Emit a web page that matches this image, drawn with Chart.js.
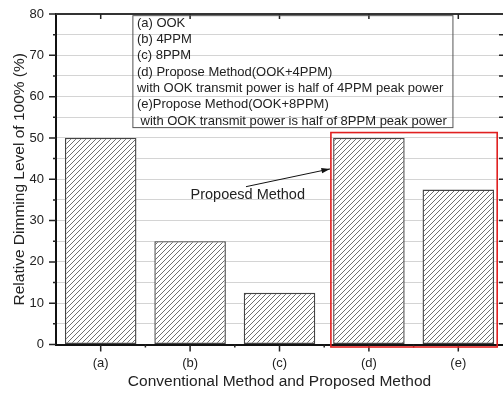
<!DOCTYPE html>
<html>
<head>
<title>Relative Dimming Level</title>
<script src="https://cdn.jsdelivr.net/npm/chart.js"></script>
<style>
  body { margin: 0; background: #fff; }
</style>
</head>
<body>
<canvas id="myChart" width="503" height="397"></canvas>
<script>
const categories = ['(a)', '(b)', '(c)', '(d)', '(e)'];
const dimming = [50, 25, 12.5, 50, 37.5];
const legendLines = [
  '(a) OOK',
  '(b) 4PPM',
  '(c) 8PPM',
  '(d) Propose Method(OOK+4PPM)',
  'with OOK transmit power is half of 4PPM peak power',
  '(e)Propose Method(OOK+8PPM)',
  ' with OOK transmit power is half of 8PPM peak power'
];
const noteText = 'Propoesd Method';

const FONT = "'Liberation Sans', Arial, sans-serif";

// diagonal hatch for the bars
function makeHatch() {
  const c = document.createElement('canvas');
  c.width = 5; c.height = 5;
  const g = c.getContext('2d');
  g.fillStyle = '#fff';
  g.fillRect(0, 0, 5, 5);
  g.strokeStyle = '#555';
  g.lineWidth = 0.85;
  g.beginPath();
  g.moveTo(-1, 6); g.lineTo(6, -1);
  g.moveTo(-1, 1); g.lineTo(1, -1);
  g.moveTo(4, 6); g.lineTo(6, 4);
  g.stroke();
  return g.createPattern(c, 'repeat');
}

const extras = {
  id: 'extras',
  afterDraw(chart) {
    const ctx = chart.ctx;
    const a = chart.chartArea;
    const xs = chart.scales.x, ys = chart.scales.y;
    const px = i => xs.getPixelForValue(i);
    const py = v => ys.getPixelForValue(v);
    ctx.save();

    // top frame line
    ctx.strokeStyle = '#333';
    ctx.lineWidth = 2;
    ctx.beginPath();
    ctx.moveTo(a.left, a.top); ctx.lineTo(a.right, a.top);
    ctx.stroke();

    // tick marks
    ctx.lineWidth = 1.5;
    ctx.strokeStyle = '#222';
    ctx.beginPath();
    for (let v = 0; v <= 80; v += 5) {
      const y = py(v);
      const len = v % 10 === 0 ? 7 : 3;
      ctx.moveTo(a.left - len, y); ctx.lineTo(a.left, y);
      if (v > 0 && v < 80) { ctx.moveTo(a.right - 4, y); ctx.lineTo(a.right, y); }
    }
    categories.forEach((c, i) => {
      const x = px(i);
      ctx.moveTo(x, a.bottom); ctx.lineTo(x, a.bottom + 7);
      ctx.moveTo(x, a.top); ctx.lineTo(x, a.top + 5);
      if (i > 0) {
        const xb = px(i - 0.5);
        ctx.moveTo(xb, a.bottom); ctx.lineTo(xb, a.bottom + 3);
      }
    });
    ctx.stroke();

    // legend text box
    const bx0 = px(0.36), bx1 = px(3.94);
    const by0 = py(79.6), by1 = py(52.5);
    ctx.strokeStyle = '#555';
    ctx.lineWidth = 1;
    ctx.strokeRect(bx0, by0, bx1 - bx0, by1 - by0);
    ctx.fillStyle = '#222';
    ctx.font = '13px ' + FONT;
    ctx.textBaseline = 'middle';
    ctx.textAlign = 'left';
    legendLines.forEach((t, k) => {
      ctx.fillText(t, bx0 + 4, by0 + 7.5 + k * 16.3);
    });

    // red box around proposed methods
    const rx0 = px(2.575), rx1 = px(4.435);
    const ry0 = py(51.3), ry1 = a.bottom + 2.5;
    ctx.strokeStyle = '#e02020';
    ctx.lineWidth = 1.6;
    ctx.strokeRect(rx0, ry0, rx1 - rx0, ry1 - ry0);

    // annotation text and arrow
    ctx.fillStyle = '#222';
    ctx.font = '14.5px ' + FONT;
    ctx.textAlign = 'center';
    ctx.fillText(noteText, px(1.645), py(36.2));
    const x0 = px(1.625), y0 = py(38.2), x1 = px(2.565), y1 = py(42.5);
    ctx.strokeStyle = '#111';
    ctx.lineWidth = 1;
    ctx.beginPath();
    ctx.moveTo(x0, y0); ctx.lineTo(x1, y1);
    ctx.stroke();
    const ang = Math.atan2(y1 - y0, x1 - x0);
    ctx.beginPath();
    ctx.moveTo(x1, y1);
    ctx.lineTo(x1 - 9 * Math.cos(ang - 0.3), y1 - 9 * Math.sin(ang - 0.3));
    ctx.lineTo(x1 - 9 * Math.cos(ang + 0.3), y1 - 9 * Math.sin(ang + 0.3));
    ctx.closePath();
    ctx.fillStyle = '#111';
    ctx.fill();

    ctx.restore();
  }
};

const ctx = document.getElementById('myChart').getContext('2d');
const chart = new Chart(ctx, {
  type: 'bar',
  data: {
    labels: categories,
    datasets: [{
      data: dimming,
      backgroundColor: makeHatch(),
      borderColor: '#444',
      borderWidth: 1.4,
      borderSkipped: false,
      barPercentage: 0.8,
      categoryPercentage: 1.0
    }]
  },
  options: {
    responsive: false,
    animation: false,
    layout: { padding: { top: 14, right: 0, left: 0, bottom: 0 } },
    plugins: { legend: { display: false }, tooltip: { enabled: false } },
    scales: {
      x: {
        grid: { display: false, drawTicks: false },
        border: { color: '#111', width: 2 },
        ticks: { color: '#222', font: { family: FONT, size: 13 }, padding: 11 },
        title: {
          display: true,
          text: 'Conventional Method and Proposed Method',
          color: '#222',
          font: { family: FONT, size: 15.5, lineHeight: 1.2 },
          padding: { top: 0, bottom: 6 }
        },
        afterFit: s => { s.height = 52.5; s.paddingLeft = 0; s.paddingRight = 0; }
      },
      y: {
        min: 0,
        max: 80,
        grid: {
          drawTicks: false,
          color: c => (c.tick.value === 0 || c.tick.value === 80) ? 'rgba(0,0,0,0)' : '#d4d4d4',
          lineWidth: 1
        },
        border: { color: '#111', width: 2 },
        ticks: {
          stepSize: 5,
          autoSkip: false,
          padding: 12,
          color: '#222',
          font: { family: FONT, size: 13 },
          callback: v => (v % 10 === 0 ? v : '')
        },
        title: {
          display: true,
          text: 'Relative Dimming Level of 100% (%)',
          color: '#222',
          font: { family: FONT, size: 15.5, lineHeight: 1.2 },
          padding: { top: 10, bottom: 0 }
        },
        afterFit: s => { s.width = 56; s.paddingTop = 0; s.paddingBottom = 0; }
      }
    }
  },
  plugins: [extras]
});
</script>
</body>
</html>
